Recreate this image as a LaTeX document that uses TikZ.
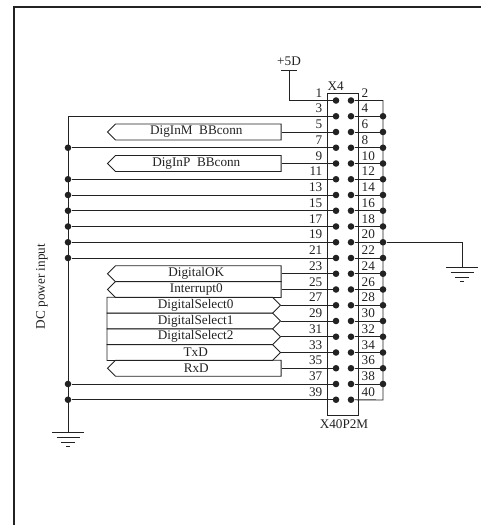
\documentclass[tikz,border=0pt]{standalone}
\usepackage{fontspec}
\setmainfont{Liberation Serif}
\usepackage{xcolor}
\usetikzlibrary{shapes.symbols}
\definecolor{ink}{HTML}{222222}
\tikzset{
    wire/.style={line width=0.9pt,draw=ink},
    pindot/.style={circle,fill=ink,inner sep=0pt,minimum size=6.6pt},
    pinnum/.style={inner sep=0pt,text=ink,font=\fontsize{13.2}{13.5}\selectfont},
    sigport/.style={signal,draw=ink,line width=0.9pt,text=ink,signal pointer angle=90,
        minimum width=173.5pt,minimum height=16pt,inner sep=0pt,font=\fontsize{13.2}{13.5}\selectfont}
}
\begin{document}
\begin{tikzpicture}[x=1pt,y=-1pt]
    \useasboundingbox (0,0) rectangle (481,525);

    % Sheet frame
    \draw[line width=2pt,draw=ink] (481,6.5) -- (14,6.5) -- (14,525);

    % Connector body
    \node[draw=ink,line width=0.9pt,inner sep=0pt,minimum width=30.5pt,minimum height=322pt] (body) at (342.75,254) {};
    \node[pinnum] (conname) at (335.7,86) {X4};
    \node[pinnum] (contype) at (344,424) {X40P2M};

    % Pins and their numbers
    \foreach \n in {1,3,...,39} {
        \node[pindot] (p\n) at (336,{100.5+7.875*(\n-1)}) {};
        \node[pinnum,anchor=east] (num\n) at (322.5,{92.7+7.875*(\n-1)}) {\n};
    }
    \foreach \n in {2,4,...,40} {
        \node[pindot] (p\n) at (351,{100.5+7.875*(\n-2)}) {};
        \node[pinnum,anchor=west] (num\n) at (361.5,{92.7+7.875*(\n-2)}) {\n};
    }

    % +5D supply
    \node[pinnum] (supply) at (289,61.7) {+5D};
    \coordinate (supbar) at (289,70);
    \draw[wire] (281,70) -- (297,70);
    \draw[wire] (p1) -| (supbar);

    % Right bus
    \coordinate (rb2) at (383,100.5);
    \coordinate (rb40) at (383,400);
    \draw[wire] (p2) -- (rb2) -- (rb40) -- (p40);
    \foreach \n in {4,6,...,38} {
        \node[pindot] (rb\n) at (383,{100.5+7.875*(\n-2)}) {};
        \draw[wire] (p\n) -- (rb\n);
    }

    % Left bus
    \coordinate (lb3) at (68,116.25);
    \coordinate (gl) at (68,432);
    \draw[wire] (p3) -- (lb3) -- (gl);
    \foreach \n in {7,11,13,15,17,19,21,37,39} {
        \node[pindot] (lb\n) at (68,{100.5+7.875*(\n-1)}) {};
        \draw[wire] (lb\n) -- (p\n);
    }

    % Ground on pin 20
    \coordinate (gr) at (462,267);
    \draw[wire] (rb20) -| (gr);
    \foreach \g in {gl,gr} {
        \foreach \w/\d in {16/0,11.5/5,7/10,2/14.5} {
            \draw[wire] (\g) ++(-\w,\d) -- ++(2*\w,0);
        }
    }

    % Signals going out to the left
    \foreach \n/\t in {5/DigInM\ \ BBconn,9/DigInP\ \ BBconn,23/DigitalOK,25/Interrupt0,35/RxD} {
        \node[sigport,signal to=west,signal from=nowhere] (sig\n) at (198.3,{100.5+7.875*(\n-1)}) {\t\hspace*{4pt}};
        \draw[wire] (sig\n.east) -- (p\n);
    }

    % Signals coming in from the left
    \foreach \n/\t in {27/DigitalSelect0,29/DigitalSelect1,31/DigitalSelect2,33/TxD} {
        \node[sigport,signal to=east,signal from=nowhere] (sig\n) at (189.7,{100.5+7.875*(\n-1)}) {\hspace*{12pt}\t};
        \draw[wire] (sig\n.east) -- (p\n);
    }

    \node[pinnum,rotate=90] (dcin) at (42,286.5) {DC power input};
\end{tikzpicture}
\end{document}
